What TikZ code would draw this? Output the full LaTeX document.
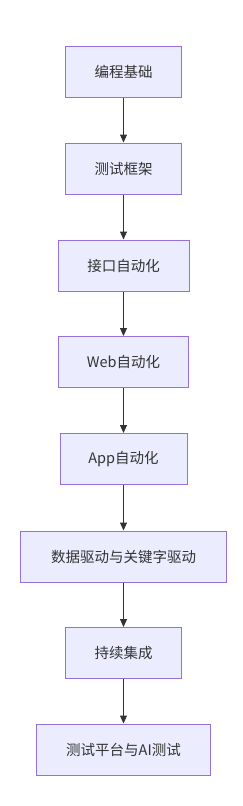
\documentclass[tikz,border=0pt]{standalone}
\usepackage{fontspec}
\setmainfont{Noto Sans CJK SC}
\usetikzlibrary{arrows.meta}
\definecolor{boxfill}{HTML}{ECECFF}
\definecolor{boxline}{HTML}{9370DB}
\definecolor{arrowc}{HTML}{333333}
\begin{document}
\begin{tikzpicture}[x=1pt,y=-1pt,
  stepbox/.style={draw=boxline,fill=boxfill,line width=1pt,minimum height=51pt,inner sep=0pt,font=\fontsize{14.5pt}{17pt}\selectfont,text=arrowc},
  flow/.style={draw=arrowc,line width=1pt,-{Triangle[length=8pt,width=7pt]}}]
\useasboundingbox (0,0) rectangle (242,806);
\node[stepbox,minimum width=116pt] (n1) at (123.5,71.5) {编程基础};
\node[stepbox,minimum width=116pt] (n2) at (123.5,168.5) {测试框架};
\node[stepbox,minimum width=131pt] (n3) at (123.5,265.5) {接口自动化};
\node[stepbox,minimum width=130pt] (n4) at (123.5,362) {Web自动化};
\node[stepbox,minimum width=127pt] (n5) at (123.5,459) {App自动化};
\node[stepbox,minimum width=206pt] (n6) at (123.5,556.5) {数据驱动与关键字驱动};
\node[stepbox,minimum width=116pt] (n7) at (123.5,653) {持续集成};
\node[stepbox,minimum width=174pt] (n8) at (123.5,749.5) {测试平台与AI测试};
\foreach \a/\b in {n1/n2,n2/n3,n3/n4,n4/n5,n5/n6,n6/n7,n7/n8}
  \draw[flow] (\a.south) -- (\b.north);
\end{tikzpicture}
\end{document}
